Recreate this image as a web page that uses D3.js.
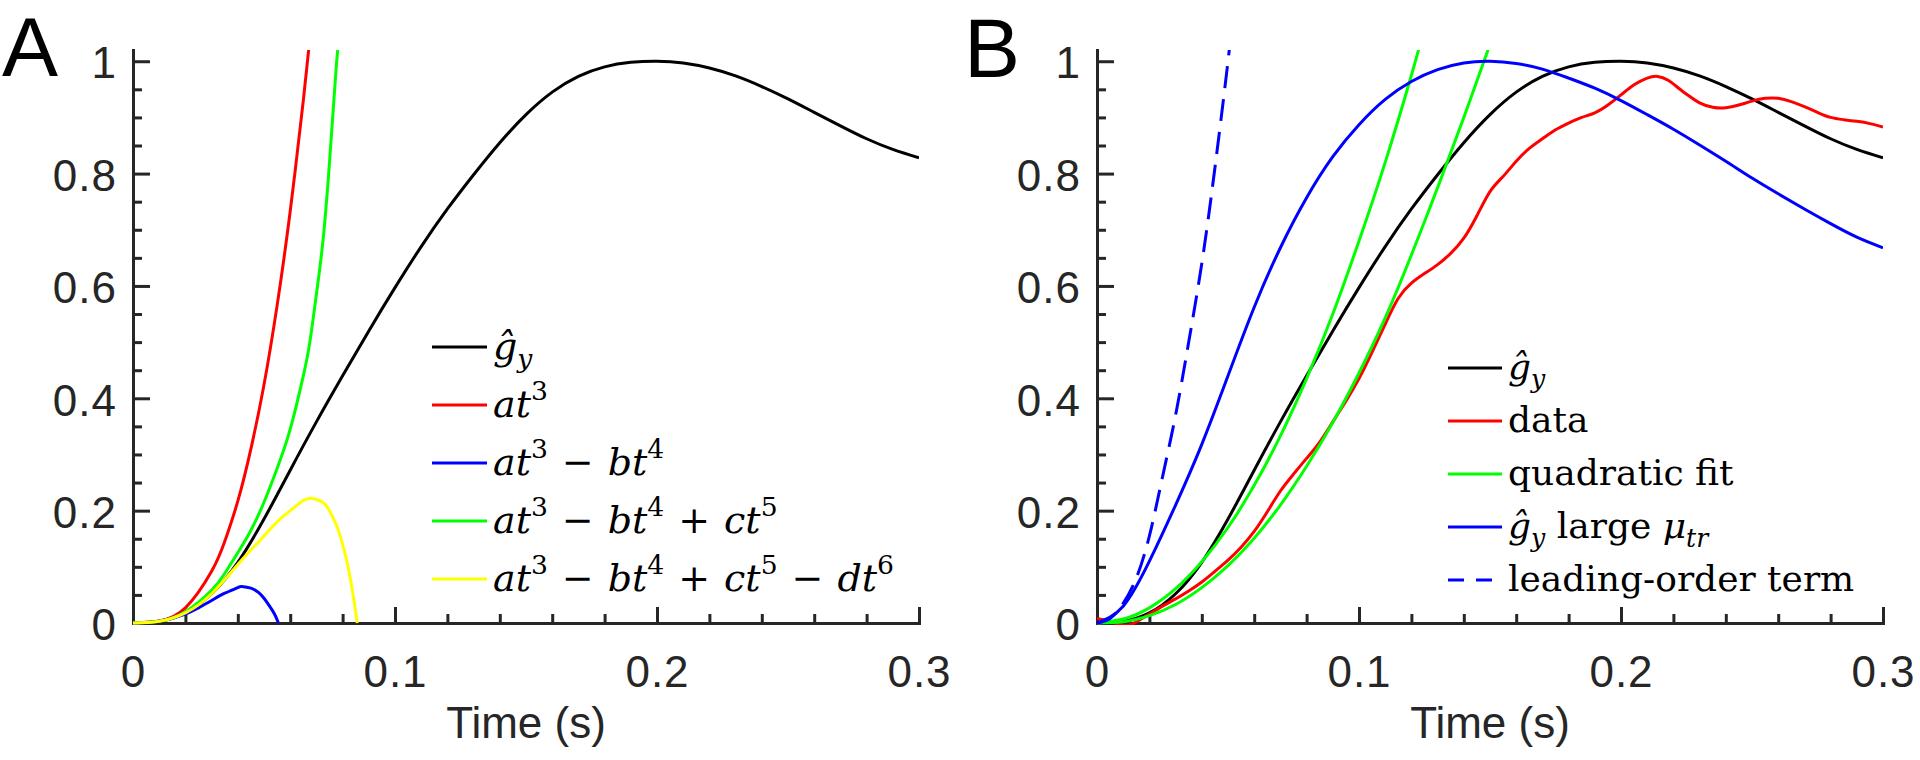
<!DOCTYPE html>
<html><head><meta charset="utf-8">
<script src="https://cdn.jsdelivr.net/npm/d3@7"></script>
<style>
body{margin:0;background:#fff;}
svg{display:block;}
</style></head><body>
<svg id="chart" width="1920" height="760"></svg>
<script>
// ---------- data ----------
// shared \hat g_y curve
const gyT = [0,0.01,0.02,0.03,0.04,0.05,0.06,0.07,0.08,0.09,0.10,0.11,0.12,0.13,0.14,0.15,0.16,0.17,0.18,0.19,0.20,0.21,0.22,0.23,0.24,0.25,0.26,0.27,0.28,0.29,0.30];
const gyV = [0,0.003,0.018,0.052,0.108,0.185,0.272,0.358,0.44,0.52,0.597,0.67,0.737,0.798,0.855,0.905,0.945,0.973,0.99,0.998,1.0,0.997,0.988,0.974,0.955,0.933,0.909,0.885,0.862,0.843,0.828];

// Panel A series
const cubT = [0,0.01,0.02,0.03,0.035,0.04,0.045,0.05,0.055,0.06,0.065,0.0675];
const cubV = [0,0.0035,0.027,0.092,0.145,0.217,0.31,0.424,0.565,0.733,0.93,1.04];
const quartT = [0,0.01,0.02,0.025,0.03,0.035,0.04,0.0415,0.045,0.048,0.05,0.052,0.054,0.0555];
const quartV = [0,0.003,0.016,0.027,0.04,0.053,0.063,0.065,0.062,0.054,0.044,0.031,0.016,0];
const quintT = [0,0.01,0.02,0.03,0.035,0.04,0.045,0.05,0.055,0.06,0.065,0.0675,0.07,0.0725,0.075,0.0775,0.079];
const quintV = [0,0.003,0.02,0.058,0.088,0.125,0.165,0.215,0.275,0.345,0.44,0.50,0.585,0.68,0.82,0.985,1.06];
const sextT = [0,0.01,0.02,0.03,0.04,0.045,0.05,0.055,0.06,0.065,0.068,0.072,0.075,0.078,0.08,0.082,0.084,0.0856];
const sextV = [0,0.003,0.018,0.052,0.104,0.13,0.155,0.18,0.2,0.218,0.222,0.216,0.2,0.17,0.14,0.102,0.05,0];

// Panel B series
const dataT = [0,0.004,0.008,0.012,0.015,0.02,0.025,0.03,0.035,0.04,0.045,0.05,0.055,0.06,0.065,0.07,0.075,0.08,0.085,0.09,0.095,0.1,0.105,0.11,0.115,0.12,0.125,0.13,0.135,0.14,0.145,0.15,0.155,0.16,0.165,0.17,0.175,0.18,0.185,0.19,0.195,0.2,0.205,0.21,0.214,0.218,0.222,0.226,0.23,0.235,0.24,0.245,0.25,0.255,0.26,0.265,0.27,0.275,0.28,0.285,0.29,0.295,0.3];
const dataV = [0.008,0.004,-0.002,-0.004,0.002,0.016,0.03,0.043,0.057,0.073,0.092,0.112,0.135,0.163,0.198,0.235,0.265,0.293,0.322,0.358,0.395,0.435,0.482,0.532,0.578,0.605,0.622,0.638,0.658,0.685,0.725,0.768,0.795,0.822,0.845,0.862,0.878,0.89,0.9,0.908,0.922,0.94,0.958,0.97,0.973,0.966,0.952,0.938,0.926,0.918,0.917,0.922,0.929,0.934,0.934,0.928,0.919,0.909,0.9,0.896,0.893,0.889,0.883];
const fit1T = [0,0.01,0.02,0.03,0.04,0.05,0.06,0.07,0.08,0.09,0.10,0.11,0.12,0.125];
const fit1V = [0,0.007,0.027,0.061,0.109,0.17,0.245,0.333,0.435,0.55,0.68,0.82,0.975,1.06];
const fit2T = [0,0.01,0.02,0.03,0.04,0.05,0.06,0.07,0.08,0.09,0.10,0.11,0.12,0.13,0.14,0.15,0.152];
const fit2V = [0,0.002,0.013,0.033,0.063,0.102,0.151,0.21,0.279,0.357,0.445,0.543,0.655,0.775,0.9,1.03,1.06];
const largeT = [0,0.01,0.02,0.03,0.04,0.05,0.06,0.07,0.08,0.09,0.10,0.11,0.12,0.13,0.14,0.15,0.16,0.17,0.18,0.19,0.20,0.21,0.22,0.23,0.24,0.25,0.26,0.27,0.28,0.29,0.30];
const largeV = [0,0.03,0.11,0.21,0.318,0.44,0.562,0.668,0.757,0.83,0.887,0.932,0.964,0.985,0.997,1.0,0.996,0.986,0.97,0.952,0.93,0.905,0.879,0.851,0.822,0.792,0.764,0.737,0.711,0.687,0.668];
const leadT = [0,0.005,0.01,0.015,0.02,0.025,0.03,0.035,0.04,0.045,0.05,0.0505];
const leadV = [0,0.008,0.035,0.08,0.155,0.26,0.37,0.5,0.64,0.81,1.0,1.03];

// axis ticks and labels
const xMajor = [0,0.1,0.2,0.3];
const xLabels = ["0","0.1","0.2","0.3"];
const yMajor = [0,0.2,0.4,0.6,0.8,1];
const yLabels = ["0","0.2","0.4","0.6","0.8","1"];
const xMinor = [0.02,0.04,0.06,0.08,0.12,0.14,0.16,0.18,0.22,0.24,0.26,0.28];
const yMinor = [0.05,0.1,0.15,0.25,0.3,0.35,0.45,0.5,0.55,0.65,0.7,0.75,0.85,0.9,0.95];
const xTitle = "Time (s)";
const panelNames = ["A","B"];

// ---------- drawing ----------
const svg = d3.select("#chart");
const AX = "#262626";
const y = d3.scaleLinear().domain([0,1.02]).range([623,50]);
const zip = (T,V) => T.map((t,i)=>[t,V[i]]);

function drawAxes(x) {
  const g = svg.append("g");
  const yAx = g.append("g").attr("transform",`translate(${x.range()[0]},0)`)
    .call(d3.axisLeft(y).tickValues(yMajor).tickFormat((d,i)=>yLabels[i]).tickSize(-17).tickSizeOuter(0).tickPadding(16));
  g.append("g").attr("transform",`translate(${x.range()[0]},0)`)
    .call(d3.axisLeft(y).tickValues(yMinor).tickFormat("").tickSize(-9).tickSizeOuter(0));
  g.append("g").attr("transform",`translate(0,${y(0)})`)
    .call(d3.axisBottom(x).tickValues(xMajor).tickFormat((d,i)=>xLabels[i]).tickSize(-16).tickSizeOuter(0).tickPadding(33));
  g.append("g").attr("transform",`translate(0,${y(0)})`)
    .call(d3.axisBottom(x).tickValues(xMinor).tickFormat("").tickSize(-9).tickSizeOuter(0));
  g.selectAll("path.domain").attr("stroke",AX).attr("stroke-width",3).attr("stroke-linecap","square");
  g.selectAll(".tick line").attr("stroke",AX).attr("stroke-width",3);
  g.selectAll(".tick text").attr("fill",AX).attr("font-family","Liberation Sans, Arial, sans-serif")
    .attr("font-size",44).attr("letter-spacing",1);
  yAx.selectAll(".tick text").attr("dy","0.38em");
  g.append("text").attr("x",(x.range()[0]+x.range()[1])/2).attr("y",738)
    .attr("text-anchor","middle").attr("fill",AX)
    .attr("font-family","Liberation Sans, Arial, sans-serif").attr("font-size",44).text(xTitle);
}

function drawSeries(x, id, list) {
  svg.append("clipPath").attr("id",id).append("rect")
    .attr("x",x.range()[0]).attr("y",50).attr("width",x.range()[1]-x.range()[0]).attr("height",y(0)-50+2);
  const g = svg.append("g").attr("clip-path",`url(#${id})`);
  const line = d3.line().x(d=>x(d[0])).y(d=>y(d[1])).curve(d3.curveNatural);
  list.forEach(s => {
    g.append("path").datum(zip(s.t,s.v)).attr("d",line).attr("fill","none")
      .attr("stroke",s.c).attr("stroke-width",3).attr("stroke-linejoin","round")
      .attr("stroke-dasharray",s.dash||null);
  });
}

// rich text: segs = [{s, it, pos:'sup'|'sub', dx}]
function rich(xp, yp, segs, size, supShift, subShift) {
  const t = svg.append("text").attr("x",xp).attr("y",yp)
    .attr("font-family","DejaVu Serif, serif").attr("font-size",size).attr("fill","#000");
  let cur = 0;
  segs.forEach(sg => {
    const sp = t.append("tspan").text(sg.s);
    if (sg.it) sp.attr("font-style","italic");
    let target = 0;
    if (sg.pos === "sup") { target = -supShift; sp.attr("font-size",size*0.7); }
    if (sg.pos === "sub") { target = subShift; sp.attr("font-size",size*0.7); }
    if (target !== cur) { sp.attr("dy",target-cur); cur = target; }
    if (sg.dx) sp.attr("dx",sg.dx);
  });
}

function legend(x1, x2, y0, dy, items, size, supShift, subShift, base) {
  items.forEach((it,i) => {
    const yy = y0 + i*dy;
    svg.append("line").attr("x1",x1).attr("x2",x2).attr("y1",yy).attr("y2",yy)
      .attr("stroke",it.c).attr("stroke-width",3).attr("stroke-dasharray",it.dash||null);
    rich(x2+6, yy+base, it.segs, size, supShift, subShift);
  });
}

// ---- Panel A ----
const xA = d3.scaleLinear().domain([0,0.3]).range([133,919]);
drawAxes(xA);
drawSeries(xA,"clipA",[
  {t:gyT,v:gyV,c:"#000000"},
  {t:cubT,v:cubV,c:"#ff0000"},
  {t:quartT,v:quartV,c:"#0000ff"},
  {t:quintT,v:quintV,c:"#00ff00"},
  {t:sextT,v:sextV,c:"#ffff00"}
]);
const G = 14;
const gHat = [{s:"ĝ",it:1},{s:"y",it:1,pos:"sub"}];
const t3 = [{s:"at",it:1},{s:"3",pos:"sup"}];
const t4 = [{s:"−",dx:G},{s:"bt",it:1,dx:G},{s:"4",pos:"sup"}];
const t5 = [{s:"+",dx:G},{s:"ct",it:1,dx:G},{s:"5",pos:"sup"}];
const t6 = [{s:"−",dx:G},{s:"dt",it:1,dx:G},{s:"6",pos:"sup"}];
legend(432,487,347,58,[
  {c:"#000000",segs:gHat},
  {c:"#ff0000",segs:t3},
  {c:"#0000ff",segs:t3.concat(t4)},
  {c:"#00ff00",segs:t3.concat(t4,t5)},
  {c:"#ffff00",segs:t3.concat(t4,t5,t6)}
],38,17,9,12);

// ---- Panel B ----
const xB = d3.scaleLinear().domain([0,0.3]).range([1097,1883]);
drawAxes(xB);
drawSeries(xB,"clipB",[
  {t:gyT,v:gyV,c:"#000000"},
  {t:dataT,v:dataV,c:"#ff0000"},
  {t:fit1T,v:fit1V,c:"#00ff00"},
  {t:fit2T,v:fit2V,c:"#00ff00"},
  {t:largeT,v:largeV,c:"#0000ff"},
  {t:leadT,v:leadV,c:"#0000ff",dash:"22,11"}
]);
legend(1448,1502,368,53,[
  {c:"#000000",segs:gHat},
  {c:"#ff0000",segs:[{s:"data"}]},
  {c:"#00ff00",segs:[{s:"quadratic fit"}]},
  {c:"#0000ff",segs:[{s:"ĝ",it:1},{s:"y",it:1,pos:"sub"},{s:" large "},{s:"μ",it:1},{s:"tr",it:1,pos:"sub"}]},
  {c:"#0000ff",dash:"16,12",segs:[{s:"leading-order term"}]}
],36,15,9,11);

// panel letters
svg.append("text").attr("x",2).attr("y",76).attr("font-family","Liberation Sans, Arial, sans-serif")
  .attr("font-size",84).attr("fill","#000").text(panelNames[0]);
svg.append("text").attr("x",964).attr("y",77).attr("font-family","Liberation Sans, Arial, sans-serif")
  .attr("font-size",84).attr("fill","#000").text(panelNames[1]);
</script>
</body></html>
